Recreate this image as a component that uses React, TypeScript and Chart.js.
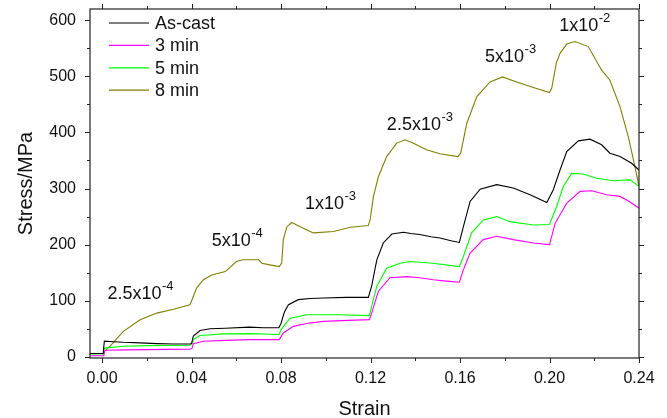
import React, { useEffect, useRef } from "react";
import { Chart, registerables } from "chart.js";

Chart.register(...registerables);

const FONT = "'Liberation Sans', Arial, sans-serif";

const seriesLabels = ["As-cast", "3 min", "5 min", "8 min"];
const seriesColors = ["#000000", "#ff00ff", "#00ff00", "#808000"];

const asCastStrain = [-0.0054, 0.0005, 0.001, 0.005, 0.0095, 0.017, 0.0245, 0.032, 0.0393, 0.04, 0.0408, 0.0438, 0.0483, 0.055, 0.066, 0.072, 0.079, 0.08, 0.0815, 0.0833, 0.0877, 0.093, 0.099, 0.109, 0.119, 0.1205, 0.1228, 0.1257, 0.1295, 0.1347, 0.138, 0.142, 0.147, 0.151, 0.156, 0.1597, 0.1615, 0.1645, 0.169, 0.1764, 0.1838, 0.1913, 0.1988, 0.2017, 0.2047, 0.2077, 0.2129, 0.2181, 0.2233, 0.227, 0.2315, 0.2367, 0.24];
const asCastStress = [6, 6, 28, 27, 26, 25, 23.7, 23, 23, 24, 37, 47, 50, 51, 53, 52, 52, 60, 80, 93, 102, 104, 105, 106, 106, 126, 173, 203, 219, 222, 220, 218, 214, 212, 207, 204, 232, 277, 299, 307, 301, 289, 275, 298, 333, 366, 385, 388, 378, 363, 357, 345, 333];

const min3Strain = [-0.0054, 0.0008, 0.0012, 0.002, 0.01, 0.02, 0.03, 0.0393, 0.0402, 0.0408, 0.0453, 0.055, 0.066, 0.0792, 0.081, 0.0855, 0.092, 0.099, 0.11, 0.1195, 0.1205, 0.1235, 0.1287, 0.1362, 0.142, 0.148, 0.154, 0.1597, 0.1615, 0.1645, 0.1704, 0.1764, 0.1838, 0.1928, 0.2, 0.2025, 0.2077, 0.2137, 0.2189, 0.2255, 0.2315, 0.236, 0.24];
const min3Stress = [2, 2, 11, 11.7, 12.5, 13, 13.3, 13.5, 15, 23.6, 27.8, 29.5, 30.8, 30.8, 42.7, 54.4, 60, 63.3, 65, 66.4, 78, 117, 141, 143, 141, 137.5, 135, 133, 155, 185, 209, 215, 209, 203, 200, 238, 274, 295, 296, 289, 286, 276, 265];

const min5Strain = [-0.0054, 0.0006, 0.001, 0.002, 0.0095, 0.02, 0.0393, 0.0402, 0.0408, 0.0438, 0.054, 0.066, 0.0792, 0.08, 0.084, 0.0915, 0.106, 0.1195, 0.1205, 0.1228, 0.1272, 0.1332, 0.1377, 0.148, 0.1597, 0.1615, 0.1652, 0.1704, 0.1764, 0.1823, 0.1928, 0.2, 0.2032, 0.2062, 0.2099, 0.215, 0.221, 0.2285, 0.236, 0.24];
const min5Stress = [5, 5, 15, 16, 19, 20, 20.6, 23, 31, 38, 41, 41.5, 40, 48.6, 69, 75, 75, 73.5, 90, 126, 158, 167, 170, 167, 161, 179, 221, 244, 250, 241, 235, 236, 268, 304, 327, 326, 318.5, 314, 315.5, 304];

const min8Strain = [-0.0054, 0.0005, 0.001, 0.0036, 0.0095, 0.017, 0.0245, 0.0319, 0.0393, 0.0408, 0.0423, 0.0453, 0.049, 0.055, 0.056, 0.06, 0.063, 0.07, 0.0714, 0.075, 0.0792, 0.0803, 0.081, 0.0826, 0.0848, 0.0885, 0.0944, 0.1034, 0.111, 0.119, 0.1198, 0.1213, 0.1235, 0.1272, 0.1317, 0.1354, 0.139, 0.145, 0.151, 0.159, 0.1603, 0.163, 0.1675, 0.1734, 0.179, 0.1853, 0.1928, 0.2, 0.201, 0.203, 0.2047, 0.2077, 0.2114, 0.2173, 0.2233, 0.227, 0.2315, 0.2352, 0.2382, 0.24];
const min8Stress = [6, 6, 10, 19, 45.5, 66, 78, 85, 93, 108, 123, 137.5, 146, 152, 155, 170, 173, 173, 167, 164, 161, 167, 209, 232, 239.5, 232, 221, 223.5, 231, 234, 244, 286, 321, 357, 381, 387, 381, 369, 362, 357, 363, 416, 464, 490, 499, 490, 480, 471, 479, 523, 541, 557.5, 562, 553, 511, 493, 446, 392.5, 339, 304];

const rateTexts = ["2.5x10", "5x10", "1x10", "2.5x10", "5x10", "1x10"];
const rateExponents = ["-4", "-4", "-3", "-3", "-3", "-2"];
const rateStrain = [0.0024, 0.049, 0.0907, 0.1273, 0.1712, 0.2043];
const rateStress = [103, 197, 263, 404, 526, 581];

const X_MIN = -0.0054;
const X_MAX = 0.24;
const Y_MIN = -2;
const Y_MAX = 620;

const toPoints = (xs: number[], ys: number[]) => xs.map((x, i) => ({ x, y: ys[i] }));

const framePlugin = {
  id: "frameTicks",
  afterDraw(chart: any) {
    const { ctx, chartArea, scales } = chart;
    const { left, right, top, bottom } = chartArea;
    const xs = scales.x;
    const ys = scales.y;
    ctx.save();
    ctx.strokeStyle = "#222";
    ctx.lineWidth = 1.2;
    ctx.strokeRect(left, top, right - left, bottom - top);
    ctx.lineWidth = 1;
    ctx.beginPath();
    for (let i = 0; i <= 12; i++) {
      const v = i * 0.02;
      const len = i % 2 === 0 ? 5 : 3;
      const px = Math.round(xs.getPixelForValue(v)) + 0.5;
      ctx.moveTo(px, bottom);
      ctx.lineTo(px, bottom + len);
      ctx.moveTo(px, top);
      ctx.lineTo(px, top - len);
    }
    for (let i = 0; i <= 12; i++) {
      const v = i * 50;
      const len = i % 2 === 0 ? 5 : 3;
      const py = Math.round(ys.getPixelForValue(v)) + 0.5;
      ctx.moveTo(left, py);
      ctx.lineTo(left - len, py);
      ctx.moveTo(right, py);
      ctx.lineTo(right + len, py);
    }
    ctx.stroke();

    // rate annotations
    ctx.fillStyle = "#111";
    ctx.textBaseline = "alphabetic";
    ctx.textAlign = "left";
    for (let i = 0; i < rateTexts.length; i++) {
      const px = xs.getPixelForValue(rateStrain[i]);
      const py = ys.getPixelForValue(rateStress[i]);
      ctx.font = `18px ${FONT}`;
      ctx.fillText(rateTexts[i], px, py);
      const w = ctx.measureText(rateTexts[i]).width;
      ctx.font = `13px ${FONT}`;
      ctx.fillText(rateExponents[i], px + w + 0.5, py - 9);
    }

    // legend
    ctx.font = `18px ${FONT}`;
    ctx.textBaseline = "middle";
    for (let i = 0; i < seriesLabels.length; i++) {
      const cy = top + 14 + i * 22.4;
      ctx.strokeStyle = seriesColors[i];
      ctx.lineWidth = 1.2;
      ctx.beginPath();
      ctx.moveTo(left + 19, cy);
      ctx.lineTo(left + 59, cy);
      ctx.stroke();
      ctx.fillStyle = "#111";
      ctx.fillText(seriesLabels[i], left + 65, cy + 1);
    }
    ctx.restore();
  },
};

export default function App() {
  const canvasRef = useRef<HTMLCanvasElement | null>(null);

  useEffect(() => {
    document.body.style.margin = "0";
    const canvas = canvasRef.current;
    if (!canvas) return;
    const seriesData = [
      toPoints(asCastStrain, asCastStress),
      toPoints(min3Strain, min3Stress),
      toPoints(min5Strain, min5Stress),
      toPoints(min8Strain, min8Stress),
    ];
    const chart = new Chart(canvas, {
      type: "scatter",
      data: {
        datasets: seriesLabels.map((label, i) => ({
          label,
          data: seriesData[i],
          showLine: true,
          borderColor: seriesColors[i],
          backgroundColor: seriesColors[i],
          borderWidth: 1.1,
          pointRadius: 0,
          tension: 0,
        })),
      },
      options: {
        responsive: false,
        animation: false,
        events: [],
        layout: { padding: { left: 0, top: 9, right: 28, bottom: 0 } },
        plugins: { legend: { display: false }, tooltip: { enabled: false } },
        scales: {
          x: {
            type: "linear",
            min: X_MIN,
            max: X_MAX,
            grid: { display: false, drawTicks: false },
            border: { display: false },
            ticks: {
              stepSize: 0.04,
              includeBounds: false,
              padding: 11,
              color: "#111",
              font: { family: FONT, size: 16 },
              maxRotation: 0,
              callback: (v: any) => Number(v).toFixed(2),
            },
            title: {
              display: true,
              text: "Strain",
              color: "#111",
              font: { family: FONT, size: 20 },
              padding: { top: 0, bottom: -3 },
            },
            afterFit: (s: any) => {
              s.height = 60;
              s.paddingLeft = 0;
              s.paddingRight = 0;
            },
          },
          y: {
            type: "linear",
            min: Y_MIN,
            max: Y_MAX,
            grid: { display: false, drawTicks: false },
            border: { display: false },
            ticks: {
              stepSize: 100,
              includeBounds: false,
              padding: 14,
              color: "#111",
              font: { family: FONT, size: 16 },
              callback: (v: any) => String(Math.round(Number(v))),
            },
            title: {
              display: true,
              text: "Stress/MPa",
              color: "#111",
              font: { family: FONT, size: 20 },
              padding: { top: 14, bottom: 0 },
            },
            afterFit: (s: any) => {
              s.width = 90;
              s.paddingTop = 0;
              s.paddingBottom = 0;
            },
          },
        },
      },
      plugins: [framePlugin],
    });
    return () => chart.destroy();
  }, []);

  return (
    <div style={{ width: 667, height: 418, background: "#fff" }}>
      <canvas ref={canvasRef} width={667} height={418} />
    </div>
  );
}
